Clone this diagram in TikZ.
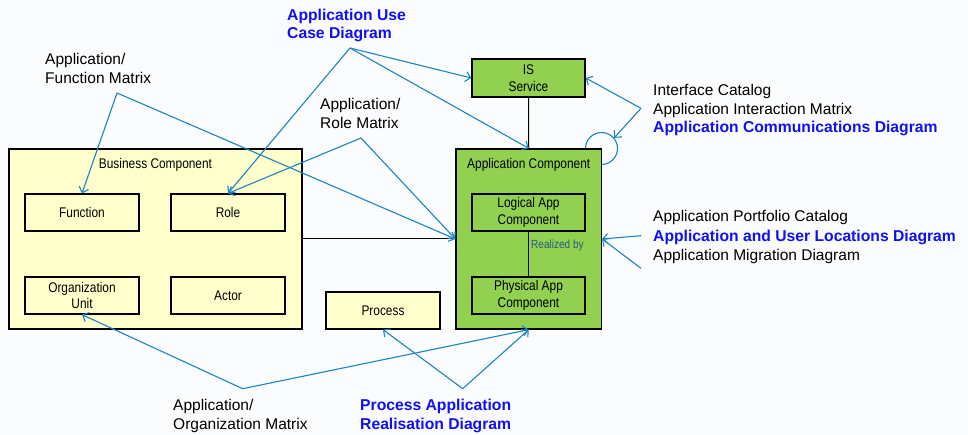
\documentclass[tikz,border=0pt]{standalone}
\usepackage{fontspec}
\setmainfont{Liberation Sans}
\newfontfamily\narrowfont[FakeStretch=0.85]{Liberation Sans}
\usetikzlibrary{arrows.meta}
\definecolor{bgc}{RGB}{251,252,254}
\definecolor{yellowfill}{RGB}{255,255,204}
\definecolor{greenfill}{RGB}{146,208,80}
\definecolor{arrowblue}{RGB}{28,132,198}
\definecolor{labelblue}{RGB}{16,16,240}
\definecolor{realblue}{RGB}{40,90,130}
\begin{document}
\begin{tikzpicture}[x=1pt,y=-1pt,
  box/.style={draw=black, line width=1.3pt, inner sep=0pt, align=center,
    font=\narrowfont\fontsize{14}{16.8}\selectfont},
  ybox/.style={box, fill=yellowfill},
  gbox/.style={box, fill=greenfill},
  boxtitle/.style={anchor=base, inner sep=0pt, font=\narrowfont\fontsize{14}{16.8}\selectfont},
  lab/.style={anchor=base west, inner sep=0pt, font=\fontsize{15.5}{18}\selectfont},
  blab/.style={lab, font=\fontsize{15.7}{18}\bfseries\selectfont, text=labelblue},
  arr/.style={draw=arrowblue, line width=1.1pt, -{Straight Barb[length=5pt,width=10pt]}},
  link/.style={draw=black, line width=1pt},
]
\fill[bgc] (0,0) rectangle (968,435);
\useasboundingbox (0,0) rectangle (968,435);

% self loop (partly hidden behind Application Component)
\node[draw=arrowblue, line width=1.1pt, circle, minimum size=32pt, inner sep=0pt] (loop) at (601.5,148.5) {};

% Business side
\node[ybox, minimum width=293pt, minimum height=180pt] (bc) at (155.5,239) {};
\node[boxtitle] (bct) at (155.5,169) {Business Component};
\node[ybox, minimum width=114pt, minimum height=37pt] (func) at (82,212.5) {Function};
\node[ybox, minimum width=114pt, minimum height=37pt] (role) at (228,212.5) {Role};
\node[ybox, minimum width=114pt, minimum height=37pt] (org) at (82,295.5) {Organization\\Unit};
\node[ybox, minimum width=114pt, minimum height=37pt] (actor) at (228,295.5) {Actor};
\node[ybox, minimum width=114pt, minimum height=37pt] (proc) at (383,310.5) {Process};

% Application side
\node[gbox, minimum width=113pt, minimum height=38pt] (is) at (528.5,78) {IS\\Service};
\node[gbox, minimum width=145.5pt, minimum height=180pt] (ac) at (528.75,239) {};
\node[boxtitle] (act) at (528.75,169) {Application Component};
\node[gbox, minimum width=113pt, minimum height=37pt] (lac) at (528.5,212.5) {Logical App\\Component};
\node[gbox, minimum width=113pt, minimum height=37pt] (pac) at (528.5,295.5) {Physical App\\Component};

% structural links
\draw[link] (bc.east) -- (ac.west);
\draw[link] (is.south) -- (ac.north);
\draw[link] (lac.south) -- (pac.north);
\node[anchor=base west, inner sep=0pt, text=realblue, font=\narrowfont\fontsize{11.8}{12}\selectfont] (rb) at (531,249) {Realized by};

% hub points of the viewpoint labels
\coordinate (fmh) at (117,93);
\coordinate (rmh) at (361,138);
\coordinate (uch) at (350,48);
\coordinate (ich) at (641,108.3);
\coordinate (pch1) at (641,235.7);
\coordinate (pch2) at (641,268.3);
\coordinate (omh) at (242.7,388.7);
\coordinate (prh) at (462.7,388.7);

% arrows
\draw[arr] (fmh) -- (func.north);
\draw[arr] (fmh) -- (ac.west);
\draw[arr] (rmh) -- (role.north);
\draw[arr] (rmh) -- (ac.west);
\draw[arr] (uch) -- (role.north);
\draw[arr] (uch) -- (is.west);
\draw[arr] (uch) -- (ac.north);
\draw[arr] (ich) -- (is.east);
\draw[arr] (ich) -- (loop.40);
\draw[arr] (pch1) -- (ac.east);
\draw[arr] (pch2) -- (ac.east);
\draw[arr] (omh) -- (org.south);
\draw[arr] (omh) -- (ac.south);
\draw[arr] (prh) -- (proc.south);
\draw[arr] (prh) -- (ac.south);

% labels
\node[lab] (fm1) at (45,65) {Application/};
\node[lab] (fm2) at (45,83.3) {Function Matrix};
\node[lab] (rm1) at (320,110) {Application/};
\node[lab] (rm2) at (320,128.3) {Role Matrix};
\node[blab] (uc1) at (287,20.7) {Application Use};
\node[blab] (uc2) at (287,39) {Case Diagram};
\node[lab] (ic1) at (653,95.7) {Interface Catalog};
\node[lab] (ic2) at (653,114.2) {Application Interaction Matrix};
\node[blab] (ic3) at (653,132.7) {Application Communications Diagram};
\node[lab] (pc1) at (653,222) {Application Portfolio Catalog};
\node[blab] (pc2) at (653,241.5) {Application and User Locations Diagram};
\node[lab] (pc3) at (653,260.7) {Application Migration Diagram};
\node[lab] (om1) at (173,410) {Application/};
\node[lab] (om2) at (173,429) {Organization Matrix};
\node[blab] (pr1) at (360,410) {Process Application};
\node[blab] (pr2) at (360,429) {Realisation Diagram};
\end{tikzpicture}
\end{document}
